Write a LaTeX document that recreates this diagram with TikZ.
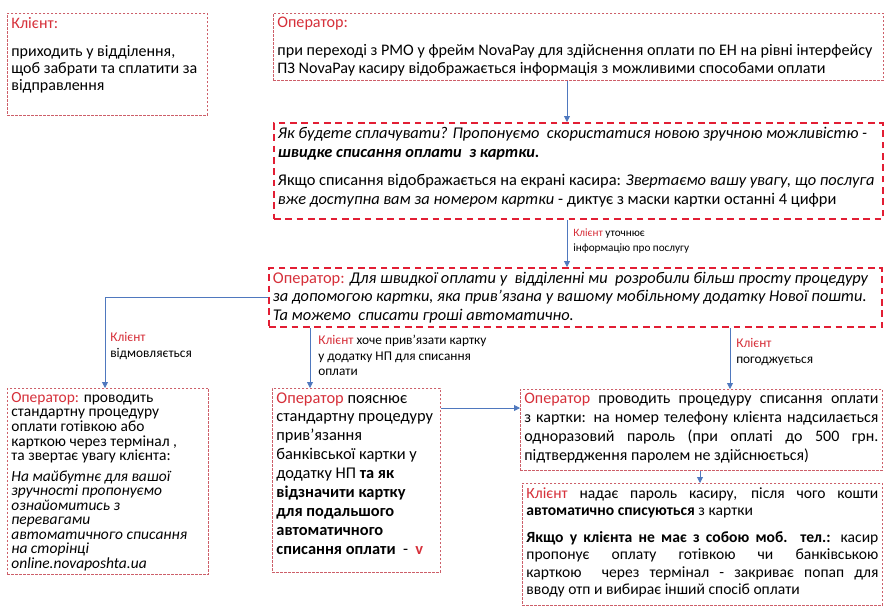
\documentclass[tikz,border=0pt]{standalone}
\usepackage{fontspec}
\setmainfont{Carlito}
\usetikzlibrary{arrows.meta}

\definecolor{oprred}{RGB}{214,48,58}
\definecolor{framered}{RGB}{205,95,105}
\definecolor{dashred}{RGB}{226,30,52}
\definecolor{flowblue}{RGB}{79,120,190}
\newcommand{\who}[1]{\textcolor{oprred}{#1}}
\newcommand{\boxbody}[3]{\parbox[c][#1][t]{#2}{#3}}

\begin{document}
\begin{tikzpicture}[x=0.75pt,y=0.75pt,yscale=-1,xscale=1,
  frame/.style={draw=framered, line width=0.6pt, dash pattern=on 1.8pt off 1.2pt, anchor=north west, inner xsep=3pt, inner ysep=3pt, fill=white},
  bigframe/.style={frame, draw=dashred, line width=1.4pt, dash pattern=on 5pt off 3.5pt},
  flow/.style={draw=flowblue, line width=0.6pt, -{Triangle[width=4.5pt,length=4.5pt]}},
  note/.style={anchor=north west, inner sep=0pt, align=left, font=\fontsize{10}{12}\selectfont}]
\useasboundingbox (0,0) rectangle (886,612);
%Coordinates for the connectors
\coordinate (xmain) at (567,0);
\coordinate (xleft) at (105,0);
\coordinate (xmid) at (310,0);
\coordinate (xright) at (730,0);
\coordinate (xlow) at (700,0);
\coordinate (ylink) at (0,408);
%Shape: Rectangle [client arrives]
\node[frame] (boxA) at (7,13) {\boxbody{70.5pt}{144pt}{\fontsize{12}{12.75}\selectfont\raggedright
\who{Клієнт:}\\[8pt]
приходить у відділення,\\ щоб забрати та сплатити за\\ відправлення}};
%Shape: Rectangle [operator frame]
\node[frame] (boxB) at (273,13) {\boxbody{44.25pt}{451.5pt}{\fontsize{12.1}{13.5}\selectfont\raggedright
\who{Оператор:}\\[7.5pt]
при переході з РМО у фрейм NovaPay для здійснення оплати по ЕН на рівні інтерфейсу\\ ПЗ NovaPay касиру відображається інформація з можливими способами оплати}};
%Shape: Rectangle [question]
\node[bigframe] (boxC) at (273,122) {\boxbody{66pt}{451pt}{\fontsize{12.3}{14.25}\selectfont\raggedright
{\itshape Як будете сплачувати? Пропонуємо\ \ скористатися новою зручною можливістю -}\\
{\itshape\bfseries швидке списання оплати\ \ з картки.}\\[6.75pt]
Якщо списання відображається на екрані касира: {\itshape Звертаємо вашу увагу, що послуга}\\
{\itshape вже доступна вам за номером картки} - диктує з маски картки останні 4 цифри}};
%Shape: Rectangle [offer]
\node[bigframe] (boxD) at (268,267) {\boxbody{38.25pt}{454pt}{\fontsize{12.3}{13.9}\selectfont\raggedright
\who{Оператор:} {\itshape Для швидкої оплати у\ \ відділенні ми\ \ розробили більш просту процедуру\\
за допомогою картки, яка прив'язана у вашому мобільному додатку Нової пошти.\\
Та можемо\ \ списати гроші автоматично.}}};
%Shape: Rectangle [refuses]
\node[frame] (boxE) at (7,388) {\boxbody{133.5pt}{145pt}{\fontsize{11.6}{10.9}\selectfont\raggedright
\who{Оператор:} проводить\\ стандартну процедуру\\ оплати готівкою або\\ карткою через термінал ,\\ та звертає увагу клієнта:\\[4.5pt]
{\itshape На майбутнє для вашої\\ зручності пропонуємо\\ ознайомитись з\\ перевагами\\ автоматичного списання\\ на сторінці\\ online.novaposhta.ua}}};
%Shape: Rectangle [bind card]
\node[frame] (boxF) at (272,388) {\boxbody{132pt}{120pt}{\fontsize{12.3}{14.2}\selectfont\raggedright
\who{Оператор} пояснює\\ стандартну процедуру\\ прив'язання\\ банківської картки у\\ додатку НП \textbf{та як}\\ \textbf{відзначити картку}\\ \textbf{для подальшого}\\ \textbf{автоматичного}\\ \textbf{списання оплати}\ \ -\ \ \textcolor{oprred}{\textbf{v}}}};
%Shape: Rectangle [one-time password]
\node[frame] (boxG) at (520,389) {\boxbody{54.75pt}{265.5pt}{\fontsize{12}{14.25}\selectfont
\who{Оператор} проводить процедуру списання оплати\linebreak з картки: на номер телефону клієнта надсилається\linebreak одноразовий пароль (при оплаті до 500 грн.\linebreak підтвердження паролем не здійснюється)}};
%Shape: Rectangle [payment done]
\node[frame] (boxH) at (522,483) {\boxbody{85.5pt}{264pt}{\fontsize{11.7}{13.1}\selectfont
\who{Клієнт} надає пароль касиру, після чого кошти\linebreak \textbf{автоматично списуються} з картки\\[7pt]
\textbf{Якщо у клієнта не має з собою моб. тел.:} касир\linebreak пропонує оплату готівкою чи банківською\linebreak карткою\ \ через термінал - закриває попап для\linebreak вводу отп и вибирає інший спосіб оплати}};
%Straight Lines
\draw[flow] (boxB.south -| xmain) -- (boxC.north -| xmain);
\draw[flow] (boxC.south -| xmain) -- (boxD.north -| xmain);
\draw[flow] (boxD.west) -| (boxE.north -| xleft);
\draw[flow] (boxD.south -| xmid) -- (boxF.north -| xmid);
\draw[flow] (boxD.south -| xright) -- (boxG.north -| xright);
\draw[flow] (boxF.east |- ylink) -- (boxG.west |- ylink);
\draw[flow] (boxG.south -| xlow) -- (boxH.north -| xlow);
% Text Node
\node[note, font=\fontsize{8.4}{11.25}\selectfont] (askC) at (573,229) {\who{Клієнт} уточнює\\ інформацію про послугу};
% Text Node
\node[note] (refuseE) at (110,332) {\who{Клієнт}\\ відмовляється};
% Text Node
\node[note, font=\fontsize{10}{11.6}\selectfont] (bindF) at (318,335) {\who{Клієнт} хоче прив'язати картку\\ у додатку НП для списання\\ оплати};
% Text Node
\node[note] (agreeG) at (736,338) {\who{Клієнт}\\ погоджується};
\end{tikzpicture}
\end{document}
